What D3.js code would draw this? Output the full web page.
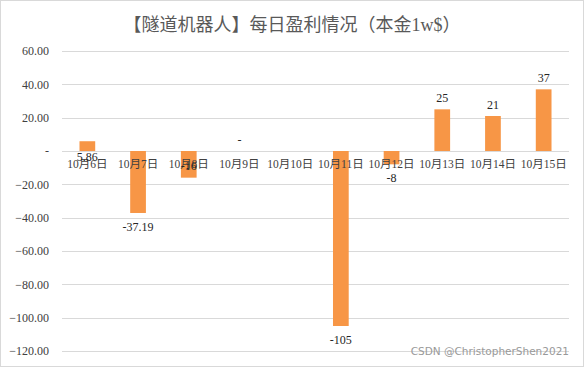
<!DOCTYPE html>
<html>
<head>
<meta charset="utf-8">
<script src="https://cdn.jsdelivr.net/npm/d3@7"></script>
<style>
  html, body { margin: 0; padding: 0; background: #fff; }
  svg { display: block; }
</style>
</head>
<body>
<svg id="chart" width="584" height="367"></svg>
<script>
const title = "【隧道机器人】每日盈利情况（本金1w$）";
const categories = ["10月6日","10月7日","10月8日","10月9日","10月10日","10月11日","10月12日","10月13日","10月14日","10月15日"];
const values = [5.86, -37.19, -16, 0, 0, -105, -8, 25, 21, 37];
const dataLabels = ["5.86", "-37.19", "-16", "-", "", "-105", "-8", "25", "21", "37"];
const yTicks = [60, 40, 20, 0, -20, -40, -60, -80, -100, -120];
const watermark = "CSDN @ChristopherShen2021";

const svg = d3.select("#chart");
const W = 584, H = 367;
const serif = "'Liberation Serif','Times New Roman','Noto Sans CJK SC',serif";
const cjk = "'Liberation Serif','Noto Sans CJK SC',serif";

svg.append("rect").attr("x", 0.5).attr("y", 0.5).attr("width", W - 1).attr("height", H - 1)
  .attr("fill", "#fff").attr("stroke", "#d9d9d9");

const x = d3.scaleBand().domain(categories).range([62, 569]).paddingInner(0.69).paddingOuter(0.345);
const y = d3.scaleLinear().domain([-120, 60]).range([351, 51]);

// title
svg.append("text").attr("x", 292).attr("y", 31).attr("text-anchor", "middle")
  .attr("font-family", cjk).attr("font-size", 18).attr("fill", "#595959").text(title);

// gridlines
svg.append("g").selectAll("line").data(yTicks).join("line")
  .attr("x1", 62).attr("x2", 569)
  .attr("y1", d => Math.round(y(d)) + 0.5).attr("y2", d => Math.round(y(d)) + 0.5)
  .attr("stroke", "#d9d9d9").attr("stroke-width", 1);

// y axis labels
const yAxis = d3.axisLeft(y).tickValues(yTicks).tickSize(0).tickPadding(0)
  .tickFormat(d => d === 0 ? "-" : d3.format(".2f")(d));
const gy = svg.append("g").attr("transform", "translate(49,0)").call(yAxis);
gy.select(".domain").remove();
gy.selectAll("text").attr("font-family", serif).attr("font-size", 12).attr("fill", "#404040");

// bars
svg.append("g").selectAll("rect").data(values).join("rect")
  .attr("x", (d, i) => x(categories[i]))
  .attr("width", x.bandwidth())
  .attr("y", d => y(Math.max(0, d)))
  .attr("height", d => Math.abs(y(d) - y(0)))
  .attr("fill", "#f79646");

// category labels
const xAxis = d3.axisBottom(x).tickSize(0).tickPadding(0);
const gx = svg.append("g").attr("transform", `translate(0,${y(0) + 9})`).call(xAxis);
gx.select(".domain").remove();
gx.selectAll("text").attr("font-family", cjk).attr("font-size", 11.5).attr("fill", "#404040");

// data labels
const overrides = { 0: (v) => y(0) + 10, 2: (v) => y(0) + 19 };
svg.append("g").selectAll("text").data(values).join("text")
  .attr("x", (d, i) => x(categories[i]) + x.bandwidth() / 2)
  .attr("y", (d, i) => overrides[i] ? overrides[i](d) : (d >= 0 ? y(d) - 7 : y(d) + 18))
  .attr("text-anchor", "middle")
  .attr("font-family", serif).attr("font-size", 12).attr("fill", "#262626")
  .text((d, i) => dataLabels[i]);

// watermark
svg.append("text").attr("x", 569).attr("y", 355).attr("text-anchor", "end")
  .attr("font-family", "'DejaVu Sans','Noto Sans',sans-serif").attr("font-size", 10.5)
  .attr("fill", "#999").text(watermark);
</script>
</body>
</html>
